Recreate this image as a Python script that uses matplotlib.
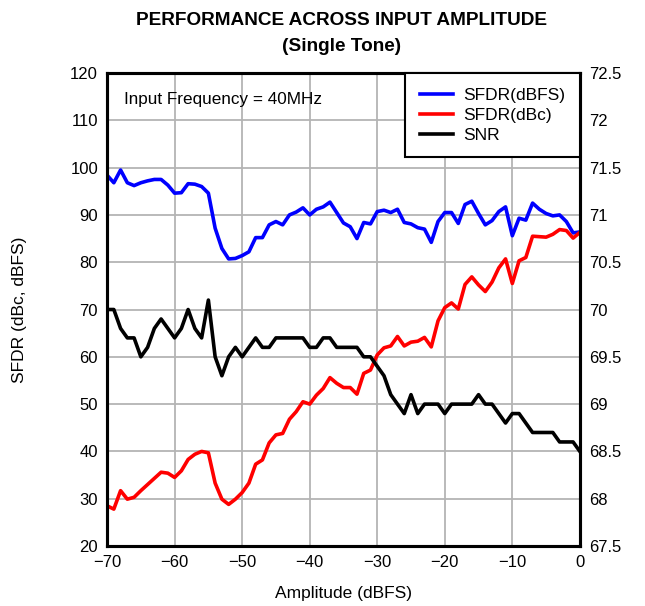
import numpy as np
import matplotlib
matplotlib.use("Agg")
import matplotlib.pyplot as plt

plt.rcParams["font.family"] = ["Liberation Sans", "DejaVu Sans"]

# input amplitude sweep, 1 dB steps
amplitude = np.arange(-70, 1)

sfdr_dbfs = [98.4, 96.8, 99.5, 96.8, 96.2, 96.8, 97.2, 97.5, 97.5, 96.3,
             94.6, 94.7, 96.6, 96.5, 96.0, 94.6, 87.2, 82.9, 80.7, 80.8,
             81.4, 82.2, 85.2, 85.2, 87.9, 88.6, 87.9, 90.0, 90.6, 91.5,
             90.0, 91.2, 91.7, 92.7, 90.5, 88.3, 87.5, 85.0, 88.4, 88.1,
             90.7, 91.0, 90.5, 91.2, 88.4, 88.1, 87.3, 87.0, 84.2, 88.6,
             90.5, 90.5, 88.2, 92.2, 92.9, 90.3, 87.9, 88.8, 90.7, 91.7,
             85.6, 89.3, 88.9, 92.5, 91.2, 90.3, 89.8, 90.0, 88.6, 86.2,
             86.4]

sfdr_dbc = [28.5, 27.8, 31.7, 29.9, 30.3, 31.7, 33.0, 34.3, 35.6, 35.4,
            34.5, 35.9, 38.3, 39.4, 40.0, 39.7, 33.3, 29.9, 28.8, 29.9,
            31.3, 33.3, 37.3, 38.2, 41.8, 43.5, 43.8, 46.8, 48.4, 50.5,
            50.0, 51.9, 53.3, 55.6, 54.4, 53.5, 53.5, 52.1, 56.5, 57.2,
            60.4, 61.9, 62.3, 64.3, 62.3, 63.1, 63.3, 64.1, 62.1, 67.6,
            70.4, 71.4, 70.1, 75.3, 76.9, 75.2, 73.8, 75.8, 78.8, 80.7,
            75.5, 80.3, 81.0, 85.5, 85.4, 85.3, 85.9, 86.9, 86.7, 85.1,
            86.3]

snr = [70.0, 70.0, 69.8, 69.7, 69.7, 69.5, 69.6, 69.8, 69.9, 69.8,
       69.7, 69.8, 70.0, 69.8, 69.7, 70.1, 69.5, 69.3, 69.5, 69.6,
       69.5, 69.6, 69.7, 69.6, 69.6, 69.7, 69.7, 69.7, 69.7, 69.7,
       69.6, 69.6, 69.7, 69.7, 69.6, 69.6, 69.6, 69.6, 69.5, 69.5,
       69.4, 69.3, 69.1, 69.0, 68.9, 69.1, 68.9, 69.0, 69.0, 69.0,
       68.9, 69.0, 69.0, 69.0, 69.0, 69.1, 69.0, 69.0, 68.9, 68.8,
       68.9, 68.9, 68.8, 68.7, 68.7, 68.7, 68.7, 68.6, 68.6, 68.6,
       68.5]

left_ticks = np.arange(20, 121, 10)
right_ticks = np.arange(67.5, 72.51, 0.5)
x_ticks = np.arange(-70, 1, 10)

fig = plt.figure(figsize=(6.45, 6.06), dpi=100)
ax = fig.add_axes([0.166, 0.099, 0.733, 0.7805])
ax2 = ax.twinx()

ax.plot(amplitude, sfdr_dbfs, color="#0000ff", lw=2.6, label="SFDR(dBFS)")
ax.plot(amplitude, sfdr_dbc, color="#ff0000", lw=2.6, label="SFDR(dBc)")
ax2.plot(amplitude, snr, color="black", lw=2.6, label="SNR")

ax.set_xlim(-70, 0)
ax.set_ylim(20, 120)
ax2.set_ylim(67.5, 72.5)
ax.set_xticks(x_ticks)
ax.set_yticks(left_ticks)
ax2.set_yticks(right_ticks)
ax2.set_yticklabels([f"{v:g}" for v in right_ticks])

ax.grid(True, color="#b4b4b4", lw=1.3)
ax.set_axisbelow(True)
for a in (ax, ax2):
    a.tick_params(length=0, labelsize=12, pad=6.5)
    for s in a.spines.values():
        s.set_linewidth(2.2)

ax.set_xlabel("Amplitude (dBFS)", fontsize=12.5)
ax.set_ylabel("SFDR (dBc, dBFS)", fontsize=12.5)
ax.xaxis.set_label_coords(0.5, -0.085)
ax.yaxis.set_label_coords(-0.17, 0.5)

ax.text(0.035, 0.945, "Input Frequency = 40MHz", transform=ax.transAxes,
        fontsize=12.3, va="center", ha="left")

handles = ax.get_lines() + ax2.get_lines()
leg = ax2.legend(handles, [h.get_label() for h in handles], loc="upper right",
                 borderaxespad=0, fancybox=False, framealpha=1,
                 edgecolor="black", fontsize=12.5, handlelength=1.9,
                 labelspacing=0.27, borderpad=0.85, handletextpad=0.6)
leg.get_frame().set_linewidth(1.5)

fig.text(0.53, 0.966, "PERFORMANCE ACROSS INPUT AMPLITUDE", ha="center",
         va="center", fontsize=13.7, fontweight="bold")
fig.text(0.53, 0.923, "(Single Tone)", ha="center", va="center",
         fontsize=13.7, fontweight="bold")

fig.savefig("out.png", dpi=100)
